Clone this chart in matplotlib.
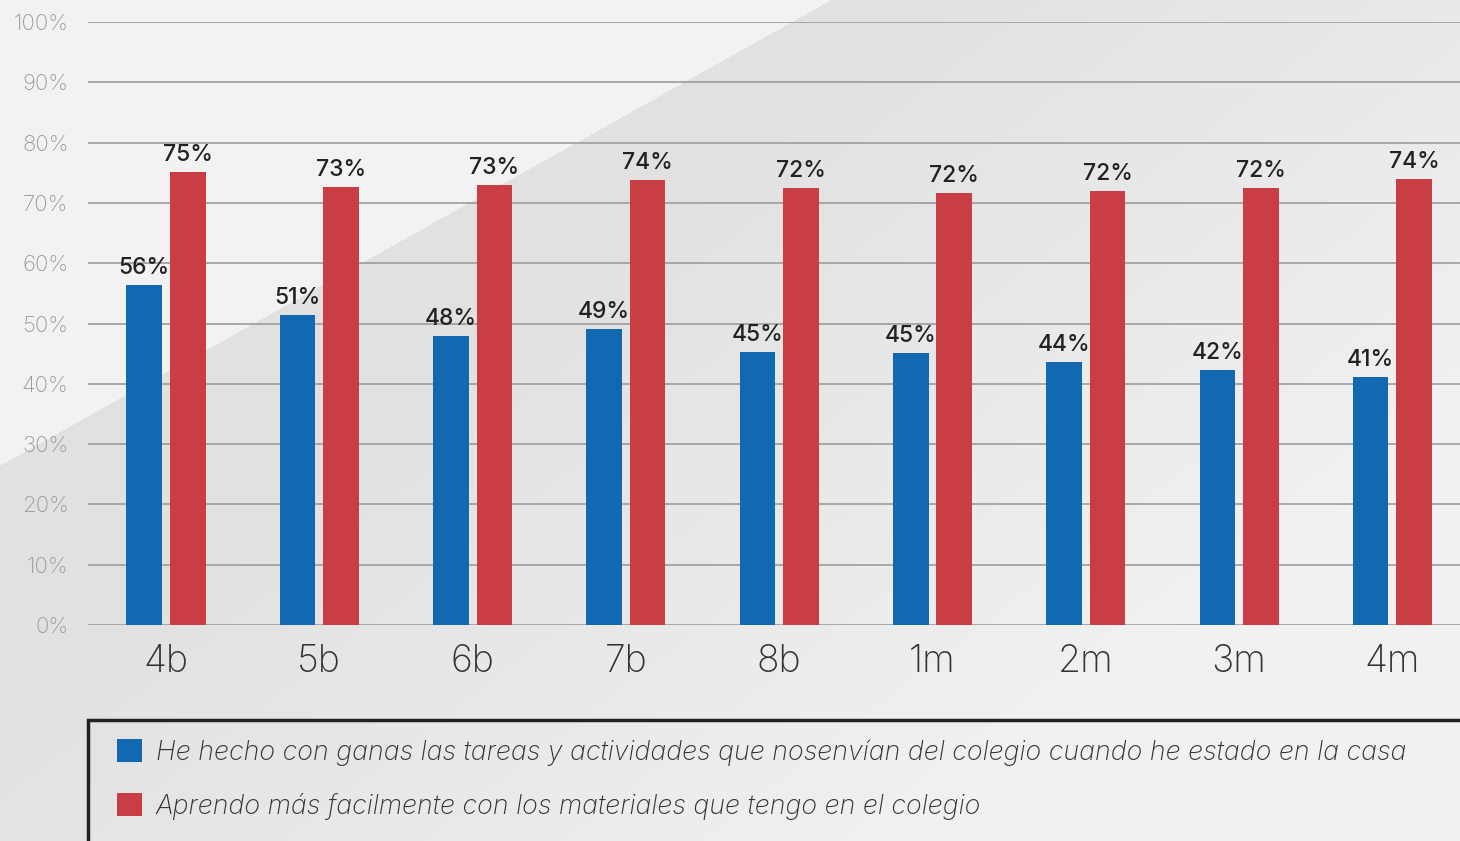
import numpy as np
import matplotlib
matplotlib.use("Agg")
import matplotlib.pyplot as plt
from matplotlib.patches import Rectangle

categories = ["4b", "5b", "6b", "7b", "8b", "1m", "2m", "3m", "4m"]
serie_azul = [56.4, 51.4, 47.9, 49.1, 45.3, 45.1, 43.6, 42.3, 41.1]
serie_roja = [75.1, 72.6, 73.0, 73.8, 72.4, 71.6, 72.0, 72.4, 74.0]
labels_azul = ["56%", "51%", "48%", "49%", "45%", "45%", "44%", "42%", "41%"]
labels_roja = ["75%", "73%", "73%", "74%", "72%", "72%", "72%", "72%", "74%"]
legend_labels = [
    "He hecho con ganas las tareas y actividades que nosenvían del colegio cuando he estado en la casa",
    "Aprendo más facilmente con los materiales que tengo en el colegio",
]
yticks = list(range(0, 101, 10))

BLUE = "#1368b2"
RED = "#c93e45"
FONT = ["Inter", "DejaVu Sans"]

W, H = 1460, 841
fig = plt.figure(figsize=(W / 100, H / 100), dpi=100)

# background with diagonal split and soft gradient
bg = fig.add_axes([0, 0, 1, 1], zorder=-10)
yy, xx = np.mgrid[0:H, 0:W]
light = yy < (465 - 465 / 830 * xx)
dark = 225 + 16 * np.clip((xx + 1.3 * yy - 900) / 1100, 0, 1)
val = np.where(light, 242, dark) / 255.0
img = np.dstack([val, val, val])
bg.imshow(img, extent=[0, W, H, 0], aspect="auto", interpolation="bilinear")
bg.set_xlim(0, W)
bg.set_ylim(H, 0)
bg.axis("off")

# main axes
left = 88 / W
bottom = 1 - 625 / H
top = 1 - 22 / H
ax = fig.add_axes([left, bottom, 1 - left, top - bottom])
ax.set_facecolor("none")

spacing = 153.3
x = np.arange(len(categories))
x0 = (88 - 166) / spacing
x1 = (1460 - 166) / spacing
w = 0.232
off = 0.142
b1 = ax.bar(x - off, serie_azul, width=w, color=BLUE, zorder=3, label=legend_labels[0])
b2 = ax.bar(x + off, serie_roja, width=w, color=RED, zorder=3, label=legend_labels[1])

for rects, labs in ((b1, labels_azul), (b2, labels_roja)):
    for r, lab in zip(rects, labs):
        ax.annotate(lab, (r.get_x() + r.get_width() / 2, r.get_height()),
                    xytext=(0, 8), textcoords="offset points", ha="center",
                    va="baseline", fontsize=16.5, color="#222222",
                    family=FONT, fontweight="medium", zorder=4)

ax.set_xlim(x0, x1)
ax.set_ylim(0, 100)
ax.set_yticks(yticks)
ax.set_yticklabels([f"{t}%" for t in yticks], family=FONT, fontweight="light",
                   fontsize=16, color="#9a9a9a")
ax.set_xticks(x)
ax.set_xticklabels(categories, family=FONT, fontweight="light", fontsize=27,
                   color="#333333")
ax.tick_params(axis="both", length=0)
ax.tick_params(axis="y", pad=14)
ax.tick_params(axis="x", pad=14)
ax.grid(axis="y", color="#9c9c9c", linewidth=1.2, zorder=0)
ax.set_axisbelow(True)
for s in ax.spines.values():
    s.set_visible(False)

# legend frame
frame = Rectangle((88 / W, -0.05), 1.0, (1 - 720 / H) + 0.05, transform=fig.transFigure,
                  facecolor="none", edgecolor="#222222", linewidth=2.5, zorder=5)
fig.patches.append(frame)

leg = fig.legend(handles=[b1, b2], labels=legend_labels, loc="upper left",
                 bbox_to_anchor=(117 / W, 1 - 739 / H), frameon=False,
                 prop={"family": FONT, "style": "italic", "weight": "light", "size": 19.3},
                 handlelength=0.95, handleheight=0.95, handletextpad=0.5,
                 labelspacing=1.0, borderpad=0, borderaxespad=0)
for t in leg.get_texts():
    t.set_color("#333333")

fig.savefig("out.png", dpi=100)
